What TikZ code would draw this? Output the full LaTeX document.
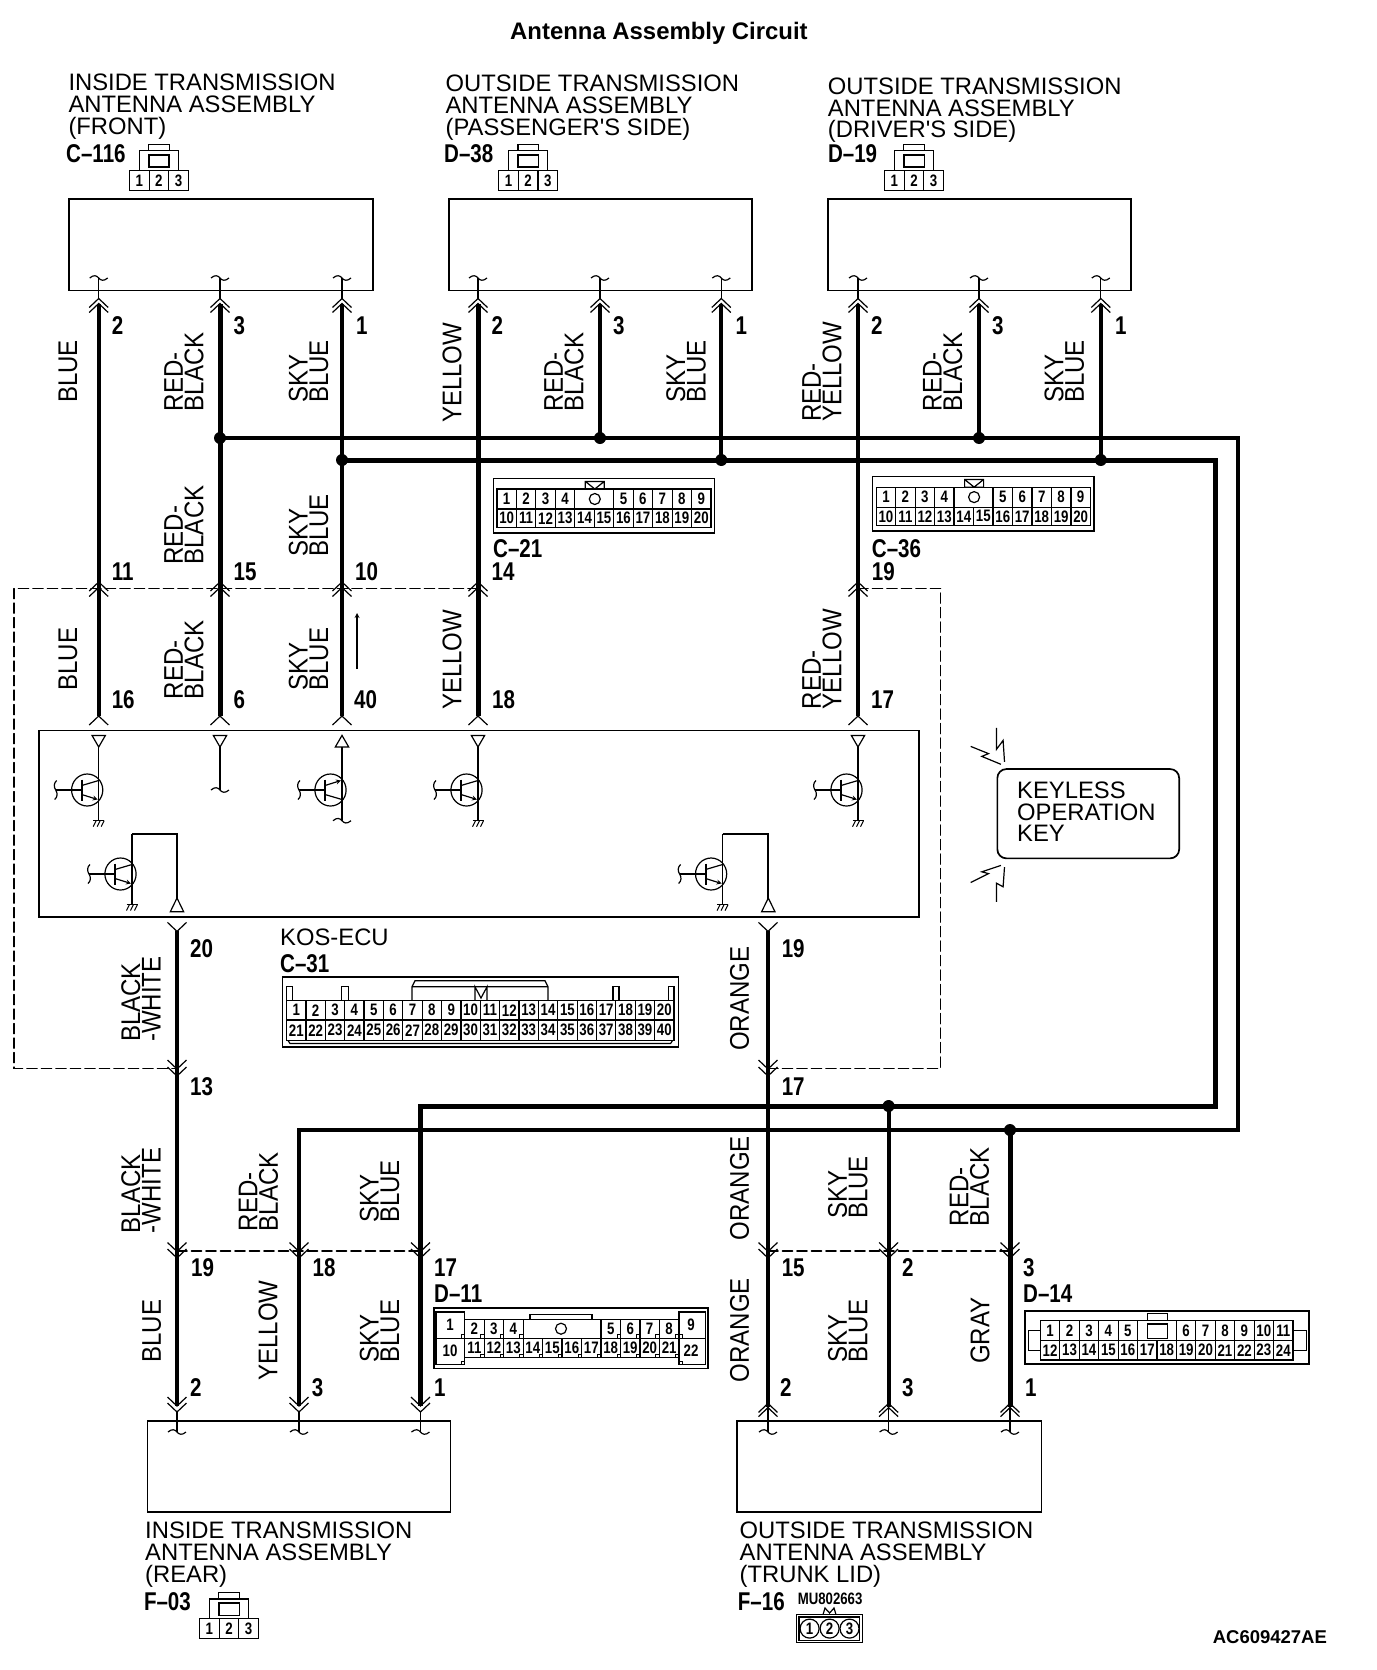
\documentclass[tikz,border=0pt]{standalone}
\usepackage{fontspec, tkz-euclide}
\setmainfont{Liberation Sans}
\newfontfamily\pinfont[FakeStretch=0.8]{Liberation Sans}
\newfontfamily\wirefont[FakeStretch=0.89]{Liberation Sans}
\tikzset{>=stealth,
  wire/.style={line width=4pt, line cap=butt, line join=miter},
  fatwire/.style={line width=5pt, line cap=butt, line join=miter},
  thinwire/.style={line width=1.2pt},
  dashline/.style={line width=1.6pt, dash pattern=on 10pt off 4.5pt},
  unitbox/.style={draw, line width=1.7pt, inner sep=0pt, anchor=north west},
  keybox/.style={unitbox, rounded corners=9pt},
  title/.style={inner sep=0pt, anchor=base west, font=\bfseries\fontsize{23.9}{24}\selectfont},
  heading/.style={inner sep=0pt, anchor=north west, align=left, font=\fontsize{23.8}{21.8}\selectfont},
  pinnum/.style={inner sep=0pt, anchor=base west, font=\pinfont\bfseries\fontsize{25.7}{26}\selectfont},
  cellnum/.style={inner sep=0pt, font=\pinfont\bfseries\fontsize{16.6}{17}\selectfont},
  colour/.style={inner sep=0pt, rotate=90, anchor=west, align=left, font=\wirefont\fontsize{27}{20.5}\selectfont}
}
\newcommand{\chevup}[2]{\draw[thinwire] ({#1-9.5},{#2+9}) -- (#1,#2) -- ({#1+9.5},{#2+9});}
\newcommand{\chevdown}[2]{\draw[thinwire] ({#1-9.5},{#2-9}) -- (#1,#2) -- ({#1+9.5},{#2-9});}
\newcommand{\wavy}[2]{\draw[thinwire] ({#1-9},#2) .. controls ({#1-5},{#2-3.5}) and ({#1-2},{#2-2.5}) .. (#1,#2) .. controls ({#1+2},{#2+2.5}) and ({#1+5},{#2+3.5}) .. ({#1+9},#2);}
\newcommand{\gnd}[2]{\draw[thinwire] ({#1-5.5},#2) -- ({#1+5.5},#2);
  \foreach \h in {-4,0,4} \draw[line width=1pt] ({#1+\h+1.5},#2) -- ({#1+\h-1.5},{#2+6});}
\newcommand{\transistor}[3]{\begin{scope}[shift={(#1,#2)}, thinwire]
    \draw (-11.5,0) ellipse (15.6 and 16);
    \draw[line width=1.8pt] (-17,-10.5) -- (-17,11);
    \draw (-43,0) -- (-17,0);
    \draw (-17,{-#3*4.5}) -- (0,{-#3*9.5});
    \draw[->] (-17,{#3*4.5}) -- (-1,{#3*9.5});
    \draw (-42,-9.5) .. controls (-45,-7) and (-45,-3) .. (-43,0) .. controls (-41,3) and (-41,7) .. (-44,9.5);
  \end{scope}}
\newcommand{\pincells}[7]{\foreach \c [count=\i from #6] in {#7} {
    \draw[thinwire] ({#2+\c*#3},#4) rectangle ({#2+(\c+1)*#3},#5);
    \node[cellnum] (#1\i) at ({#2+(\c+.5)*#3},{(#4+#5)/2}) {\i};}}
\newcommand{\threepin}[3]{\begin{scope}[shift={(#2,#3)}]
    \draw[thinwire] (0,0) rectangle (58.8,20);
    \pincells{#1}{0}{19.6}{0}{20}{1}{0,1,2}
    \draw[thinwire] (9.8,0) -- (9.8,-19.5) -- (49,-19.5) -- (49,0);
    \draw[line width=1.6pt] (19.2,-15.3) rectangle (39.7,-3.1);
    \draw[thinwire] (19.2,-19.5) -- (19.2,-26) -- (39.7,-26) -- (39.7,-19.5);
  \end{scope}}
\newcommand{\elevenpin}[3]{\begin{scope}[shift={(#2,#3)}]
    \draw[line width=1.6pt] (0,0) rectangle (221.3,54.3);
    \draw[thinwire] (3.6,10.6) rectangle (217.8,49);
    \pincells{#1}{3.6}{19.47}{10.6}{30.6}{1}{0,1,2,3,6,7,8,9,10}
    \pincells{#1}{3.6}{19.47}{30.6}{49}{10}{0,...,10}
    \draw[thinwire] (92,3) rectangle (111,10.6) (92,3) -- (101.5,10.6) -- (111,3);
    \draw[thinwire] (101.5,20.6) circle (5.5);
  \end{scope}}
\begin{document}
\begin{tikzpicture}[x=1pt, y=-1pt]
    \useasboundingbox (0,0) rectangle (1376,1670);
    \tkzDefPoints{98.7/304/Ta, 220/304/Tb, 342/304/Tc, 478/304/Td, 600/304/Te, 721.3/304/Tf, 858/304/Tg, 979/304/Th, 1100.8/304/Ti}
    \tkzDefPoints{98.7/716/Ea, 220/716/Eb, 342/716/Ec, 478/716/Ed, 858/716/Ee}
    \tkzDefPoints{220/438/Ra, 600/438/Rb, 979/438/Rc, 1238/438/Rd, 1238/1130/Re, 1010/1130/Rf, 299/1130/Rg}
    \tkzDefPoints{342/460/Sa, 721.3/460/Sb, 1100.8/460/Sc, 1215/460/Sd, 1215/1106/Se, 888.6/1106/Sf, 420.5/1106/Sg}
    \tkzDefPoints{177/931/Ba, 768/931/Bb, 177/1406/Bc, 299/1406/Bd, 420.5/1406/Be, 768/1407/Bf, 888.6/1407/Bg, 1010/1407/Bh}
    \tkzDefPoints{478/588.6/Da, 14/588.6/Db, 14/1068.6/Dc, 177/1068.6/Dd, 768/1068.6/De, 940.5/1068.6/Df, 940.5/588.6/Dg, 858/588.6/Dh}
    \tkzDefPoints{177/1251/Fa, 420.5/1251/Fb, 768/1251/Fc, 1010/1251/Fd}
    \tkzDrawPolySeg[dashline](Da,Db,Dc,Dd)
    \tkzDrawPolySeg[dashline](De,Df,Dg,Dh)
    \tkzDrawSegment[dashline](Fa,Fb)
    \tkzDrawSegment[dashline](Fc,Fd)
    \tkzDrawSegment[wire](Ta,Ea)
    \tkzDrawSegment[fatwire](Tb,Eb)
    \tkzDrawSegment[wire](Tc,Ec)
    \tkzDrawSegment[fatwire](Td,Ed)
    \tkzDrawSegment[wire](Tg,Ee)
    \tkzDrawSegment[wire](Te,Rb)
    \tkzDrawSegment[wire](Th,Rc)
    \tkzDrawSegment[wire](Tf,Sb)
    \tkzDrawSegment[wire](Ti,Sc)
    \tkzDrawSegment[wire](Ba,Bc)
    \tkzDrawSegment[wire](Bb,Bf)
    \tkzDrawSegment[wire](Sf,Bg)
    \tkzDrawSegment[fatwire](Rf,Bh)
    \tkzDrawPolySeg[wire](Ra,Rd,Re,Rg,Bd)
    \tkzDrawPolySeg[fatwire](Sa,Sd,Se,Sg,Be)
    \foreach \p in {Ra,Rb,Rc,Rf,Sa,Sb,Sc,Sf} \fill (\p) circle (6);
    \foreach \x in {98.7,220,342,478,600,721.3,858,979,1100.8} {
      \chevup{\x}{298.5} \chevup{\x}{303.5}
      \draw[thinwire] (\x,298.5) -- (\x,278);
      \wavy{\x}{278}}
    \foreach \x in {98.7,220,342,478,858} {\chevup{\x}{582} \chevup{\x}{587.5} \chevup{\x}{716}}
    \foreach \x in {177,768} {\chevdown{\x}{931.4} \chevdown{\x}{1069} \chevdown{\x}{1076}}
    \foreach \x in {177,299,420.5,768,888.6,1010} {\chevdown{\x}{1251.5} \chevdown{\x}{1258}}
    \foreach \x in {177,299,420.5} {\chevdown{\x}{1406} \chevdown{\x}{1412}
      \draw[thinwire] (\x,1412) -- (\x,1432);
      \wavy{\x}{1432}}
    \foreach \x in {768,888.6,1010} {\chevup{\x}{1403.4} \chevup{\x}{1407.6}
      \draw[thinwire] (\x,1403.4) -- (\x,1432);
      \wavy{\x}{1432}}
    \node[title] (circuitTitle) at (510,39.4) {Antenna Assembly Circuit};
    \node[heading] (headFront) at (68.3,74) {INSIDE TRANSMISSION\\ANTENNA ASSEMBLY\\(FRONT)};
    \node[heading] (headPassenger) at (445.4,74.8) {OUTSIDE TRANSMISSION\\ANTENNA ASSEMBLY\\(PASSENGER\textquotesingle S SIDE)};
    \node[heading] (headDriver) at (827.7,77.5) {OUTSIDE TRANSMISSION\\ANTENNA ASSEMBLY\\(DRIVER\textquotesingle S SIDE)};
    \node[heading] (headRear) at (145,1522) {INSIDE TRANSMISSION\\ANTENNA ASSEMBLY\\(REAR)};
    \node[heading] (headTrunk) at (739.5,1522) {OUTSIDE TRANSMISSION\\ANTENNA ASSEMBLY\\(TRUNK LID)};
    \node[unitbox, minimum width=303.8pt, minimum height=91.5pt] (antFront) at (68.3,198.2) {};
    \node[unitbox, minimum width=303pt, minimum height=91.5pt] (antPassenger) at (448.2,198.2) {};
    \node[unitbox, minimum width=303pt, minimum height=91.5pt] (antDriver) at (827.4,198.2) {};
    \node[unitbox, minimum width=303.1pt, minimum height=91.2pt] (antRear) at (146.5,1420.2) {};
    \node[unitbox, minimum width=304.1pt, minimum height=91.2pt] (antTrunk) at (736.4,1420.2) {};
    \node[unitbox, minimum width=880pt, minimum height=186.4pt] (ecuBox) at (38.4,729.6) {};
    \node[keybox, minimum width=181.8pt, minimum height=89.3pt] (keyBox) at (996.5,768.2) {};
    \node[heading] (keyName) at (1017,781.5) {KEYLESS\\OPERATION\\KEY};
    \foreach \x/\y/\t [count=\i] in {66/162.6/C\textendash116, 444/162.6/D\textendash38, 827.8/162.6/D\textendash19, 493/557/C\textendash21, 871.7/557/C\textendash36, 280/972.5/C\textendash31, 434/1302.4/D\textendash11, 1023/1302.4/D\textendash14, 143.8/1610/F\textendash03, 737.7/1610/F\textendash16, 111.6/334/2, 233.5/334/3, 356/334/1, 491.5/334/2, 613/334/3, 735.5/334/1, 871/334/2, 992/334/3, 1115/334/1, 111.6/580/11, 233.5/580/15, 355/580/10, 491.5/580/14, 871.7/580/19, 111.6/708/16, 233.5/708/6, 354/708/40, 492/708/18, 871/708/17, 190/957/20, 781.6/957/19, 190/1095.7/13, 781.6/1095.7/17, 191/1276.4/19, 312.5/1276.4/18, 434/1276.4/17, 781.6/1276.4/15, 902/1276.4/2, 1023/1276.4/3, 190/1396/2, 311.6/1396/3, 434/1396/1, 780/1396/2, 902/1396/3, 1025/1396/1}
      \node[pinnum] (pin\i) at (\x,\y) {\t};
    \node[heading] (ecuName) at (280,928.7) {KOS-ECU};
    \foreach \x/\y/\t [count=\i] in {68/403/BLUE, 184/411.5/RED-\\BLACK, 308.5/403/SKY\\BLUE, 452/423/YELLOW, 564/411.5/RED-\\BLACK, 686/403/SKY\\BLUE, 822/422/RED-\\YELLOW, 942.8/411.5/RED-\\BLACK, 1064.4/403/SKY\\BLUE, 184/564.6/RED-\\BLACK, 308.5/557/SKY\\BLUE, 68/690.6/BLUE, 184/699.5/RED-\\BLACK, 308.5/690.6/SKY\\BLUE, 452/710/YELLOW, 822/709.5/RED-\\YELLOW, 141/1042/BLACK\\-WHITE, 739.5/1051/ORANGE, 141/1233.5/BLACK\\-WHITE, 258.5/1231.4/RED-\\BLACK, 379.5/1223/SKY\\BLUE, 739.5/1240.6/ORANGE, 847.8/1219/SKY\\BLUE, 969.4/1226.5/RED-\\BLACK, 151.8/1362.6/BLUE, 268/1380.9/YELLOW, 379.5/1362.6/SKY\\BLUE, 739.5/1382.6/ORANGE, 847.8/1362.6/SKY\\BLUE, 980/1364/GRAY}
      \node[colour] (col\i) at (\x,\y) {\t};
    \draw[thinwire, ->] (357,669) -- (357,613);
    \foreach \x in {98.7,220,478,858} {\draw[thinwire] ({\x-6.7},735.4) -- ({\x+6.7},735.4) -- (\x,747) -- cycle;}
    \draw[thinwire] (342,735.4) -- (335.3,747) -- (348.7,747) -- cycle;
    \draw[thinwire] (98.7,747) -- (98.7,820.7);
    \draw[thinwire] (220,747) -- (220,790);
    \wavy{220}{790}
    \draw[thinwire] (342,747) -- (342,820.7);
    \wavy{342}{820.7}
    \draw[thinwire] (478,747) -- (478,820.7);
    \draw[thinwire] (858,747) -- (858,820.7);
    \transistor{98.7}{790}{1}
    \transistor{342}{790}{-1}
    \transistor{478}{790}{1}
    \transistor{858}{790}{1}
    \gnd{98.7}{820.7} \gnd{478}{820.7} \gnd{858}{820.7}
    \foreach \x/\r in {132/177, 722.6/768.3} {
      \transistor{\x}{874}{1}
      \draw[thinwire] (\x,904.6) -- (\x,834);
      \draw[line width=1.7pt] (\x,834) -- (\r,834) -- (\r,899);
      \draw[thinwire] (\r,898) -- ({\r-6.7},911.8) -- ({\r+6.7},911.8) -- cycle;
      \gnd{\x}{904.6}}
    \draw[thinwire] (970.7,746.4) -- (988.5,753.6) -- (981.8,756.4) -- (1000.9,764.3);
    \draw[thinwire] (996.5,727.9) -- (996.5,749.3) -- (1003.1,740.4) -- (1004.5,761.8);
    \draw[thinwire] (970.7,882.5) -- (988.5,873.6) -- (981.8,871.8) -- (1000.9,865.4);
    \draw[thinwire] (1004.5,867.1) -- (1003.1,886.8) -- (996.5,883.2) -- (996.5,901.8);
    \draw[line width=1.6pt] (282.6,977) rectangle (678.6,1047);
    \draw[thinwire] (286.6,1000.4) rectangle (674,1040.4);
    \pincells{ec}{286.6}{19.37}{1000.4}{1020}{1}{0,...,19}
    \pincells{ec}{286.6}{19.37}{1020}{1040.4}{21}{0,...,19}
    \draw[thinwire] (412,1000.4) -- (412,986.8) -- (415,980.7) -- (545,980.7) -- (548,986.8) -- (548,1000.4) (412,986.8) -- (548,986.8);
    \draw[thinwire] (475,1000.4) -- (475,986.8) -- (481,998) -- (487,986.8) -- (487,1000.4);
    \foreach \a/\b in {286.6/292.4, 341.5/348.2, 613/619, 668.7/674} \draw[thinwire] (\a,1000.4) rectangle (\b,986.8);
    \draw[thinwire] (288,1040.4) -- (290,1043.5) -- (670.6,1043.5) -- (672.6,1040.4);
    \elevenpin{ca}{493.3}{478.4}
    \elevenpin{cb}{872.6}{476.5}
    \threepin{pa}{129.5}{170.3}
    \threepin{pb}{498.7}{170.3}
    \threepin{pc}{884.6}{170.3}
    \threepin{pd}{199.6}{1618.4}
    \draw[line width=1.6pt] (434,1307.7) rectangle (708,1368.3);
    \draw[thinwire] (436,1311.9) rectangle (464.7,1364.5) (436,1338.2) -- (464.7,1338.2);
    \draw[thinwire] (678.9,1311.9) rectangle (705.7,1364.5) (678.9,1338.2) -- (705.7,1338.2);
    \node[cellnum] (da1) at (450,1325) {1};
    \node[cellnum] (da10) at (450,1351) {10};
    \node[cellnum] (da9) at (691,1325) {9};
    \node[cellnum] (da22) at (691,1351) {22};
    \draw[thinwire] (464.7,1319.6) rectangle (678.9,1357.8);
    \pincells{dm}{464.7}{19.47}{1319.6}{1338.2}{2}{0,1,2}
    \pincells{dm}{464.7}{19.47}{1319.6}{1338.2}{5}{7,8,9,10}
    \pincells{dm}{464.7}{19.47}{1338.2}{1357.8}{11}{0,...,10}
    \foreach \c in {1,2,3,8,9,10,11} \draw[line width=.9pt] ({464.7+\c*19.47-3.5},1334.7) rectangle ({464.7+\c*19.47},1338.2);
    \foreach \c in {1,...,11} \draw[line width=.9pt] ({464.7+\c*19.47-3.5},1354.3) rectangle ({464.7+\c*19.47},1357.8);
    \foreach \x/\y in {461.2/1334.7, 461.2/1361, 678.9/1334.7, 678.9/1361} \draw[line width=.9pt] (\x,\y) rectangle ({\x+3.5},{\y+3.5});
    \draw[thinwire] (530,1319.6) -- (530,1314.7) -- (592,1314.7) -- (592,1319.6);
    \draw[thinwire] (561,1328.7) circle (5.5);
    \draw[line width=1.6pt] (1024.9,1310.8) rectangle (1309,1363.8);
    \draw[line width=1.6pt] (1040.4,1320.6) rectangle (1293,1359.9);
    \pincells{dn}{1040.4}{19.43}{1320.6}{1340.6}{1}{0,1,2,3,4}
    \pincells{dn}{1040.4}{19.43}{1320.6}{1340.6}{6}{7,8,9,10,11,12}
    \pincells{dn}{1040.4}{19.43}{1340.6}{1359.9}{12}{0,...,12}
    \draw[thinwire] (1147.4,1324) rectangle (1167.3,1338.2);
    \draw[thinwire] (1147.4,1320.6) -- (1147.4,1313.3) -- (1167.3,1313.3) -- (1167.3,1320.6);
    \draw[thinwire] (1040.4,1330.8) -- (1028.4,1330.8) -- (1028.4,1350.4) -- (1040.4,1350.4);
    \draw[thinwire] (1293,1330.8) -- (1306.3,1330.8) -- (1306.3,1350.4) -- (1293,1350.4);
    \draw[line width=1.6pt] (796.3,1614.6) rectangle (862.4,1642.6);
    \draw[thinwire] (799,1617) rectangle (859.7,1640.2);
    \draw[thinwire] (823,1614.6) -- (825,1608) -- (829.6,1613) -- (834,1608) -- (836,1614.6);
    \foreach \x/\t in {809.6/1, 829.6/2, 849.5/3} \node[cellnum, draw, circle, thinwire, minimum size=19pt] (trunk\t) at (\x,1628.6) {\t};
    \node[inner sep=0pt, anchor=base west, font=\pinfont\bfseries\fontsize{16.5}{17}\selectfont] (partNo) at (797.6,1604) {MU802663};
    \node[inner sep=0pt, anchor=base west, font=\bfseries\fontsize{18.5}{19}\selectfont] (figNo) at (1212.6,1643.7) {AC609427AE};
\end{tikzpicture}
\end{document}
